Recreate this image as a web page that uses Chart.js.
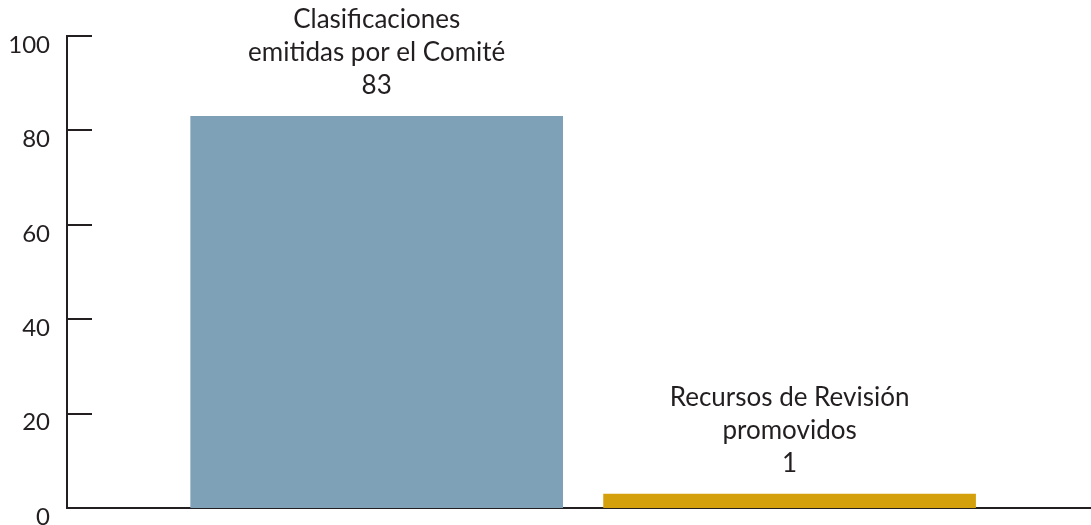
<!DOCTYPE html>
<html>
<head>
<meta charset="utf-8">
<script src="https://cdn.jsdelivr.net/npm/chart.js@4/dist/chart.umd.min.js"></script>
<style>
html,body{margin:0;padding:0;background:#fff;}
#wrap{width:1091px;height:525px;position:relative;}
</style>
</head>
<body>
<div id="wrap"><canvas id="c"></canvas></div>
<script>
const categories = [
  ['Clasificaciones', 'emitidas por el Comité'],
  ['Recursos de Revisión', 'promovidos']
];
const values = [83, 1];
const barColors = ['#7fa1b7', '#d4a00c'];
const yTicks = [0, 20, 40, 60, 80, 100];

const FONT = 'Lato';
const INK = '#231f20';

const barLabels = {
  id: 'barLabels',
  afterDatasetsDraw(chart) {
    const ctx = chart.ctx;
    const meta = chart.getDatasetMeta(0);
    ctx.save();
    ctx.fillStyle = INK;
    ctx.textAlign = 'center';
    ctx.textBaseline = 'alphabetic';
    ctx.font = '26px ' + FONT;
    meta.data.forEach((bar, i) => {
      const lines = categories[i].concat([String(values[i])]);
      const lh = 33;
      let base = bar.y - 22;
      for (let k = lines.length - 1; k >= 0; k--) {
        ctx.fillText(lines[k], bar.x, base);
        base -= lh;
      }
    });
    ctx.restore();
  }
};

const innerTicks = {
  id: 'innerTicks',
  afterDraw(chart) {
    const ctx = chart.ctx;
    const ys = chart.scales.y;
    const left = chart.chartArea.left;
    ctx.save();
    ctx.strokeStyle = INK;
    ctx.lineWidth = 2;
    yTicks.forEach(v => {
      const y = Math.round(ys.getPixelForValue(v));
      ctx.beginPath();
      ctx.moveTo(left - 1, y);
      ctx.lineTo(left + 25, y);
      ctx.stroke();
    });
    ctx.restore();
  }
};

new Chart(document.getElementById('c'), {
  type: 'bar',
  data: {
    datasets: [{
      data: values.map((v, i) => ({ x: i + 1, y: v })),
      backgroundColor: barColors,
      borderWidth: 0,
      barThickness: 372,
      minBarLength: 14
    }]
  },
  options: {
    responsive: true,
    maintainAspectRatio: false,
    animation: false,
    layout: { padding: { top: 36, bottom: 17, left: 0, right: 0 } },
    plugins: { legend: { display: false }, tooltip: { enabled: false } },
    scales: {
      x: {
        type: 'linear',
        offset: false,
        min: 0.25,
        max: 2.73,
        ticks: { display: false },
        grid: { display: false, drawTicks: false, offset: false },
        border: { display: true, color: INK, width: 2 },
        afterFit(s) { s.height = 0; s.paddingLeft = 0; s.paddingRight = 0; }
      },
      y: {
        min: 0,
        max: 100,
        afterBuildTicks(s) { s.ticks = yTicks.map(v => ({ value: v })); },
        ticks: {
          color: INK,
          font: { family: FONT, size: 24 },
          padding: 17,
          labelOffset: 9
        },
        grid: { display: false, drawTicks: false },
        border: { display: true, color: INK, width: 2 },
        afterFit(s) { s.width = 67; s.paddingTop = 0; s.paddingBottom = 0; }
      }
    }
  },
  plugins: [barLabels, innerTicks]
});
</script>
</body>
</html>
